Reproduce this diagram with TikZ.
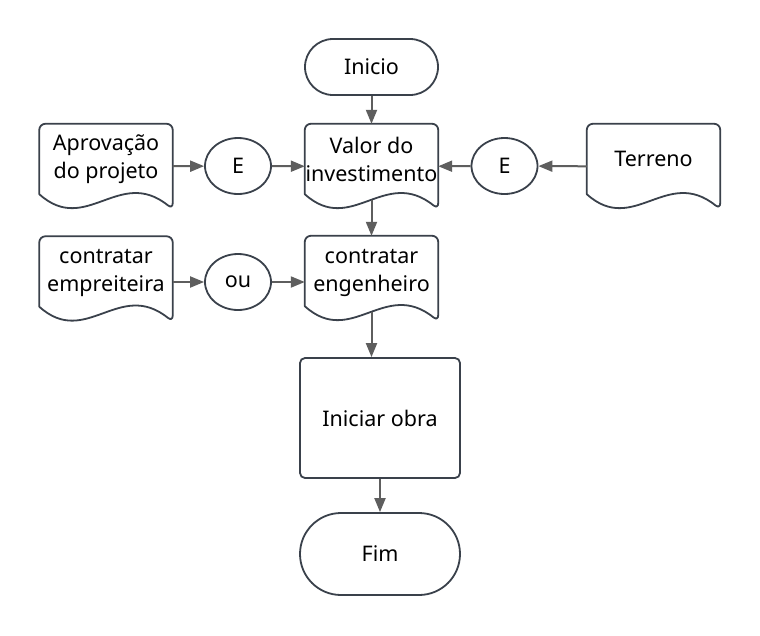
\documentclass[tikz,border=0pt]{standalone}
\usepackage{fontspec}
\setmainfont{Noto Sans}
\usetikzlibrary{shapes.geometric,arrows.meta}
\definecolor{shp}{HTML}{3A414B}
\definecolor{arr}{HTML}{5E5E5E}
\tikzset{
  every node/.style={font=\fontsize{21.5}{28}\selectfont, text=black},
  shapeline/.style={draw=shp, line width=1.8pt},
  docbox/.style={minimum width=133pt, minimum height=85pt, inner sep=0pt},
  doctext/.style={align=center, inner sep=0pt},
  terminal/.style={shapeline, rounded corners=#1, inner sep=0pt},
  procbox/.style={shapeline, rounded corners=5pt, inner sep=0pt, minimum width=160pt, minimum height=120pt},
  gate/.style={shapeline, ellipse, inner sep=0pt, minimum width=66pt, minimum height=56pt},
  conn/.style={draw=arr, line width=2pt, -{Triangle[length=14pt,width=11pt]}},
}
\newcommand\docshape[1]{%
  \draw[shapeline, line join=round] ([yshift=15pt]#1.south west)
    [rounded corners=6pt] -- (#1.north west) -- (#1.north east) -- (#1.south east)
    [sharp corners] .. controls ([shift={(80pt,43pt)}]#1.south west) and ([shift={(46.5pt,-27pt)}]#1.south west) .. ([yshift=15pt]#1.south west) -- cycle;}
\begin{document}
\begin{tikzpicture}[x=1pt,y=-1pt]
\fill[white] (0,0) rectangle (760,635);
\useasboundingbox (0,0) rectangle (760,635);

% row 1
\node[docbox] (apr) at (106,166.5) {};
\node[docbox] (v) at (371.5,166.5) {};
\node[docbox] (ter) at (653.5,166.5) {};
\docshape{apr}\docshape{v}\docshape{ter}
\node[doctext] (aprt) at ([yshift=7pt]apr.center) {Aprovação\\do projeto};
\node[doctext] (vt) at ([yshift=7pt]v.center) {Valor do\\investimento};
\node[doctext] (tert) at ([yshift=8pt]ter.center) {Terreno};

\node[gate] (e1) at (238,166) {E};
\node[gate] (e2) at (504.5,166) {E};

% row 2
\node[docbox] (emp) at (106,279) {};
\node[docbox] (eng) at (371.5,278.5) {};
\docshape{emp}\docshape{eng}
\node[doctext] (empt) at ([yshift=6pt]emp.center) {contratar\\empreiteira};
\node[doctext] (engt) at ([yshift=6pt]eng.center) {contratar\\engenheiro};
\node[gate] (ou) at (238,282) {ou};

% terminals and process
\node[terminal=28pt, minimum width=133pt, minimum height=56pt] (ini) at (371.5,67) {Inicio};
\node[procbox] (io) at (380,418) {Iniciar obra};
\node[terminal=41pt, minimum width=160pt, minimum height=82pt] (fim) at (380,554) {Fim};

% connectors
\draw[conn] (ini) -- (v);
\draw[conn] (apr) -- (e1);
\draw[conn] (e1) -- (v);
\draw[conn] (ter) -- (e2);
\draw[conn] (e2) -- (v);
\draw[conn] ([yshift=9pt]v.south) -- (eng.north);
\draw[conn] (emp.east |- ou.west) -- (ou.west);
\draw[conn] (ou.east) -- (ou.east -| eng.west);
\draw[conn] ([yshift=9pt]eng.south) -- (eng.south |- io.north);
\draw[conn] (io) -- (fim);
\end{tikzpicture}
\end{document}
